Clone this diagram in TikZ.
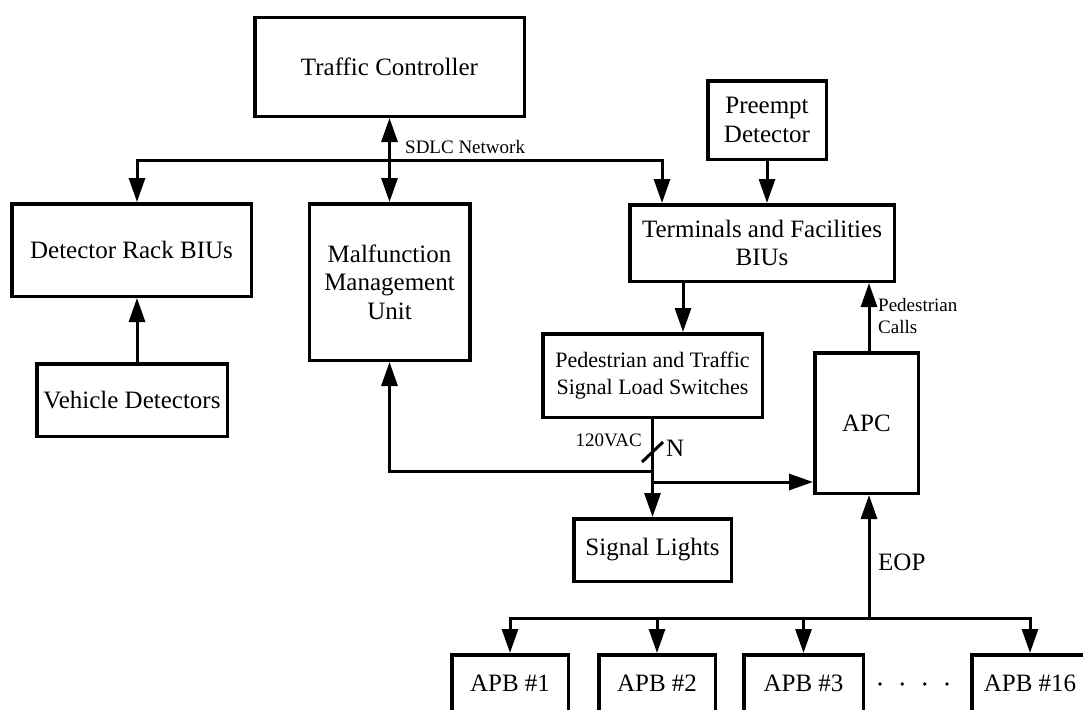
\documentclass[tikz,border=0pt]{standalone}
\usepackage{fontspec}
\setmainfont{Liberation Serif}
\usetikzlibrary{arrows.meta,calc}
\begin{document}
\begin{tikzpicture}[x=1pt,y=-1pt,
  box/.style={draw,line width=3.5pt,inner sep=0pt,align=center,
    font=\fontsize{25}{28.5}\selectfont},
  wire/.style={line width=3pt,line cap=rect},
  arr/.style={wire,-{Triangle[length=24pt,width=16pt]}},
  dbl/.style={wire,{Triangle[length=24pt,width=16pt]}-{Triangle[length=24pt,width=16pt]}},
  lbl/.style={inner sep=0pt,font=\fontsize{19}{22}\selectfont},
  biglbl/.style={inner sep=0pt,font=\fontsize{25}{28}\selectfont}]
\useasboundingbox (0,0) rectangle (1083,709);

% blocks
\node[box,minimum width=269.5,minimum height=98.5] (tc) at (389.5,67) {Traffic Controller};
\node[box,minimum width=118.5,minimum height=78.5,font=\fontsize{25}{29}\selectfont] (pre) at (767,120) {Preempt\\Detector};
\node[box,minimum width=239.5,minimum height=92.5] (drb) at (131.5,250) {Detector Rack BIUs};
\node[box,minimum width=190.5,minimum height=72.5] (vd) at (132,400) {Vehicle Detectors};
\node[box,minimum width=160.5,minimum height=156.5] (mmu) at (389.5,282) {Malfunction\\Management\\Unit};
\node[box,minimum width=264.5,minimum height=76.5,font=\fontsize{25}{28}\selectfont] (tf) at (762,243) {Terminals and Facilities\\BIUs};
\node[box,minimum width=219.5,minimum height=83.5,font=\fontsize{22}{27}\selectfont] (sw) at (652.5,375.5) {Pedestrian and Traffic\\Signal Load Switches};
\node[box,minimum width=103.5,minimum height=140.5] (apc) at (866.5,423) {APC};
\node[box,minimum width=157.5,minimum height=62.5] (sl) at (652.5,550) {Signal Lights};
\node[box,minimum width=116.5,minimum height=56.5] (apb1) at (510,683) {APB \#1};
\node[box,minimum width=116.5,minimum height=56.5] (apb2) at (657,683) {APB \#2};
\node[box,minimum width=119.5,minimum height=56.5] (apb3) at (803.5,683) {APB \#3};
\node[box,minimum width=116.5,minimum height=56.5] (apb16) at (1030,683) {APB \#16};

% SDLC network bus
\coordinate (busL) at (137,160);
\coordinate (busR) at (662,160);
\draw[wire] (busL) -- (busR);
\draw[arr] (busL) -- (busL |- drb.north);
\draw[arr] (busR) -- (busR |- tf.north);
\draw[dbl] (tc.south) -- (mmu.north);
\node[lbl,anchor=west] (sdlc) at (405,146.5) {SDLC Network};

% detectors
\draw[arr] (vd.north -| busL) -- (drb.south -| busL);
\draw[arr] (pre.south) -- (pre.south |- tf.north);

% terminals and facilities to load switches
\coordinate (tfo) at (683,283);
\draw[arr] (tf.south -| tfo) -- (sw.north -| tfo);

% pedestrian calls
\coordinate (pc) at (869,351);
\draw[arr] (apc.north -| pc) -- (tf.south -| pc);
\node[lbl,anchor=north west,align=left] (pcl) at (878,298) {Pedestrian\\Calls};

% load switch outputs
\draw[arr] (sw.south) -- (sl.north);
\coordinate (s1) at (642,462);
\coordinate (s2) at (663,442);
\draw[line width=3pt] (s1) -- (s2);
\node[lbl,anchor=east] (vac) at (642,440) {120VAC};
\node[biglbl,anchor=west] (nn) at (666,448) {N};
\coordinate (j1) at (652.5,471);
\coordinate (j2) at (652.5,482);
\draw[arr] (j1) -| (mmu.south);
\draw[arr] (j2) -- (j2 -| apc.west);

% pushbutton bus
\coordinate (eop) at (869,618);
\coordinate (pb1) at (510,618);
\coordinate (pb16) at (1030,618);
\draw[wire] (pb1) -- (pb16);
\draw[arr] (eop) -- (apc.south -| eop);
\node[biglbl,anchor=west] (eopl) at (878,562) {EOP};
\draw[arr] (pb1) -- (apb1.north);
\draw[arr] (apb2.north |- pb1) -- (apb2.north);
\draw[arr] (apb3.north |- pb1) -- (apb3.north);
\draw[arr] (pb16) -- (apb16.north);
\foreach \dx in {880,902.3,924.7,947} \fill (\dx,684) circle (1.9);
\end{tikzpicture}
\end{document}
